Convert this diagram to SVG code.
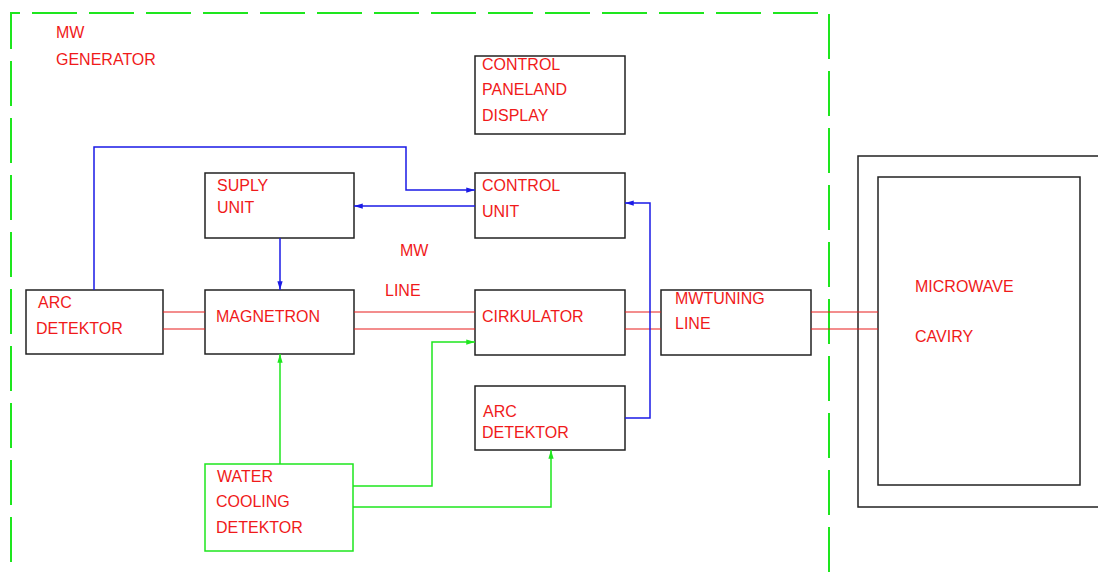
<svg xmlns="http://www.w3.org/2000/svg" width="1098" height="572" viewBox="0 0 1098 572">
<defs>
<style>
.box{fill:none;stroke:#222;stroke-width:1.5}
.gbox{fill:none;stroke:#1ee61e;stroke-width:1.5}
.t{font-family:"Liberation Sans",Arial,sans-serif;font-size:16px;fill:#f01a1a}
.red{stroke:#e81c1c;stroke-width:1.2;fill:none}
.blue{stroke:#1a1ae6;stroke-width:1.5;fill:none}
.green{stroke:#1ee61e;stroke-width:1.5;fill:none}
.dash{stroke:#1ee61e;stroke-width:2;fill:none;stroke-dasharray:45 12}
</style>
<marker id="ab" viewBox="0 0 10 8" refX="10" refY="4" markerWidth="9" markerHeight="7" markerUnits="userSpaceOnUse" orient="auto"><path d="M0,1 L10,4 L0,7 z" fill="#1a1ae6"/></marker>
<marker id="ag" viewBox="0 0 10 8" refX="10" refY="4" markerWidth="9" markerHeight="7" markerUnits="userSpaceOnUse" orient="auto"><path d="M0,1 L10,4 L0,7 z" fill="#1ee61e"/></marker>
</defs>
<rect width="1098" height="572" fill="#fff"/>
<g id="boundary">
<path class="dash" d="M829,572 V13 H11 V572"/>
<text class="t" x="56" y="38">MW</text>
<text class="t" x="56" y="65">GENERATOR</text>
</g>
<g id="cavity">
<rect class="box" x="858" y="156" width="250" height="351"/>
<rect class="box" x="878" y="177" width="202" height="308"/>
<text class="t" x="915" y="292">MICROWAVE</text>
<text class="t" x="915" y="342">CAVIRY</text>
</g>
<g id="panel">
<rect class="box" x="475" y="56" width="150" height="78"/>
<text class="t" x="482" y="70">CONTROL</text>
<text class="t" x="482" y="95">PANELAND</text>
<text class="t" x="482" y="121">DISPLAY</text>
</g>
<g id="control">
<rect class="box" x="475" y="173" width="150" height="65"/>
<text class="t" x="482" y="191">CONTROL</text>
<text class="t" x="482" y="217">UNIT</text>
</g>
<g id="supply">
<rect class="box" x="205" y="173" width="149" height="65"/>
<text class="t" x="217" y="191">SUPLY</text>
<text class="t" x="217" y="213">UNIT</text>
</g>
<g id="arc1">
<rect class="box" x="26" y="290" width="137" height="64"/>
<text class="t" x="38" y="308">ARC</text>
<text class="t" x="36" y="334">DETEKTOR</text>
</g>
<g id="magnetron">
<rect class="box" x="205" y="290" width="149" height="64"/>
<text class="t" x="216" y="322">MAGNETRON</text>
</g>
<g id="circulator">
<rect class="box" x="475" y="290" width="150" height="65"/>
<text class="t" x="482" y="322">CIRKULATOR</text>
</g>
<g id="tuning">
<rect class="box" x="661" y="290" width="150" height="65"/>
<text class="t" x="675" y="304">MWTUNING</text>
<text class="t" x="675" y="329">LINE</text>
</g>
<g id="arc2">
<rect class="box" x="475" y="386" width="150" height="64"/>
<text class="t" x="483" y="417">ARC</text>
<text class="t" x="482" y="438">DETEKTOR</text>
</g>
<g id="water">
<rect class="gbox" x="205" y="464" width="148" height="87"/>
<text class="t" x="217" y="482">WATER</text>
<text class="t" x="216" y="507">COOLING</text>
<text class="t" x="216" y="533">DETEKTOR</text>
</g>
<g id="mwline">
<text class="t" x="400" y="256">MW</text>
<text class="t" x="385" y="296">LINE</text>
</g>
<g id="connectors">
<path class="red" d="M163,312 H205 M163,329 H205"/>
<path class="red" d="M354,312 H475 M354,329 H475"/>
<path class="red" d="M625,312 H661 M625,329 H661"/>
<path class="red" d="M811,312 H878 M811,329 H878"/>
<path class="blue" d="M94,290 V147 H406 V190 H475" marker-end="url(#ab)"/>
<path class="blue" d="M475,206 H354" marker-end="url(#ab)"/>
<path class="blue" d="M280,238 V290" marker-end="url(#ab)"/>
<path class="blue" d="M625,418 H650 V203 H625" marker-end="url(#ab)"/>
<path class="green" d="M280,464 V354" marker-end="url(#ag)"/>
<path class="green" d="M353,486 H432 V342 H475" marker-end="url(#ag)"/>
<path class="green" d="M353,507 H551 V450" marker-end="url(#ag)"/>
</g>
</svg>
